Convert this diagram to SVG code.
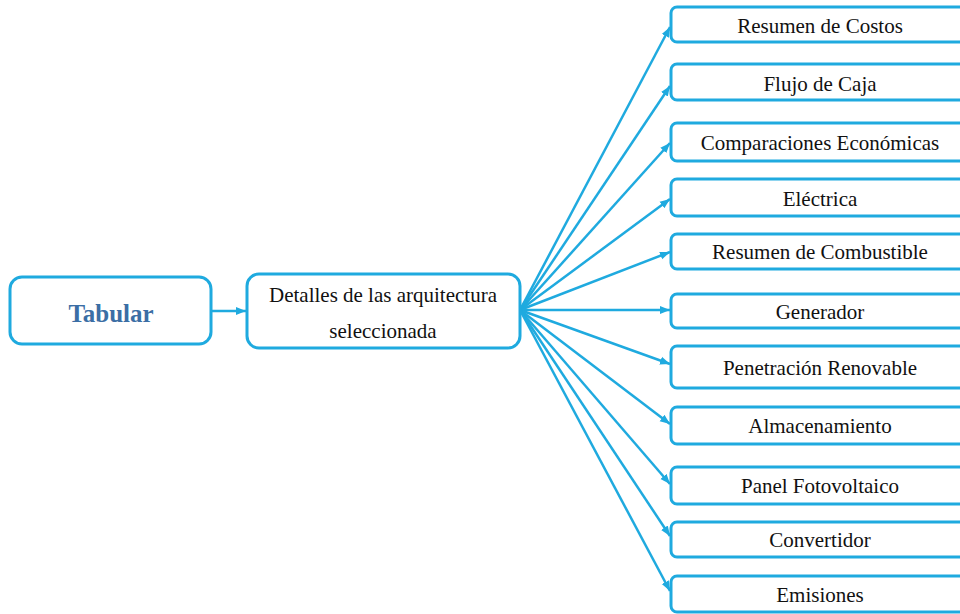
<svg xmlns="http://www.w3.org/2000/svg" width="960" height="614" viewBox="0 0 960 614">
<style>
.box{fill:#fff;stroke:#1faadf;stroke-width:3}
.lbl{font-family:"Liberation Serif","Times New Roman",serif;font-size:21px;fill:#111;text-anchor:middle}
.ln{stroke:#1faadf;stroke-width:2.5;fill:none;marker-end:url(#ah)}
.title{font-family:"Liberation Serif","Times New Roman",serif;font-size:25px;font-weight:bold;fill:#3b6ea5;text-anchor:middle}
</style>
<defs>
<marker id="ah" markerUnits="userSpaceOnUse" markerWidth="10" markerHeight="10" viewBox="0 0 10 10" refX="10" refY="5" orient="auto">
<path d="M0,1 L10,5 L0,9 Z" fill="#1faadf"/>
</marker>
</defs>
<rect width="960" height="614" fill="#fff"/>
<g id="connectors">
<line class="ln" x1="212" y1="311" x2="246" y2="311"/>
<line class="ln" x1="520" y1="310" x2="670" y2="27"/>
<line class="ln" x1="520" y1="310" x2="670" y2="86"/>
<line class="ln" x1="520" y1="310" x2="670" y2="143"/>
<line class="ln" x1="520" y1="310" x2="670" y2="199"/>
<line class="ln" x1="520" y1="310" x2="670" y2="252"/>
<line class="ln" x1="520" y1="310" x2="670" y2="310"/>
<line class="ln" x1="520" y1="310" x2="670" y2="364"/>
<line class="ln" x1="520" y1="310" x2="670" y2="424"/>
<line class="ln" x1="520" y1="310" x2="670" y2="484"/>
<line class="ln" x1="520" y1="310" x2="670" y2="536"/>
<line class="ln" x1="520" y1="310" x2="670" y2="591"/>
</g>
<g id="tabular"><rect class="box" x="10" y="277" width="201" height="67" rx="12"/><text class="title" x="111" y="322">Tabular</text></g>
<g id="detalles"><rect class="box" x="247" y="274" width="273" height="74" rx="12"/><text class="lbl" x="383" y="302">Detalles de las arquitectura</text><text class="lbl" x="383" y="338">seleccionada</text></g>
<g id="n1"><rect class="box" x="671" y="7" width="300" height="35" rx="6"/><text class="lbl" x="820" y="33">Resumen de Costos</text></g>
<g id="n2"><rect class="box" x="671" y="64" width="300" height="36" rx="6"/><text class="lbl" x="820" y="91">Flujo de Caja</text></g>
<g id="n3"><rect class="box" x="671" y="123" width="300" height="38" rx="6"/><text class="lbl" x="820" y="150">Comparaciones Económicas</text></g>
<g id="n4"><rect class="box" x="671" y="179" width="300" height="37" rx="6"/><text class="lbl" x="820" y="206">Eléctrica</text></g>
<g id="n5"><rect class="box" x="671" y="234" width="300" height="35" rx="6"/><text class="lbl" x="820" y="259">Resumen de Combustible</text></g>
<g id="n6"><rect class="box" x="671" y="294" width="300" height="34" rx="6"/><text class="lbl" x="820" y="319">Generador</text></g>
<g id="n7"><rect class="box" x="671" y="346" width="300" height="42" rx="6"/><text class="lbl" x="820" y="375">Penetración Renovable</text></g>
<g id="n8"><rect class="box" x="671" y="407" width="300" height="37" rx="6"/><text class="lbl" x="820" y="433">Almacenamiento</text></g>
<g id="n9"><rect class="box" x="671" y="467" width="300" height="37" rx="6"/><text class="lbl" x="820" y="493">Panel Fotovoltaico</text></g>
<g id="n10"><rect class="box" x="671" y="522" width="300" height="35" rx="6"/><text class="lbl" x="820" y="547">Convertidor</text></g>
<g id="n11"><rect class="box" x="671" y="576" width="300" height="36" rx="6"/><text class="lbl" x="820" y="602">Emisiones</text></g>
</svg>
